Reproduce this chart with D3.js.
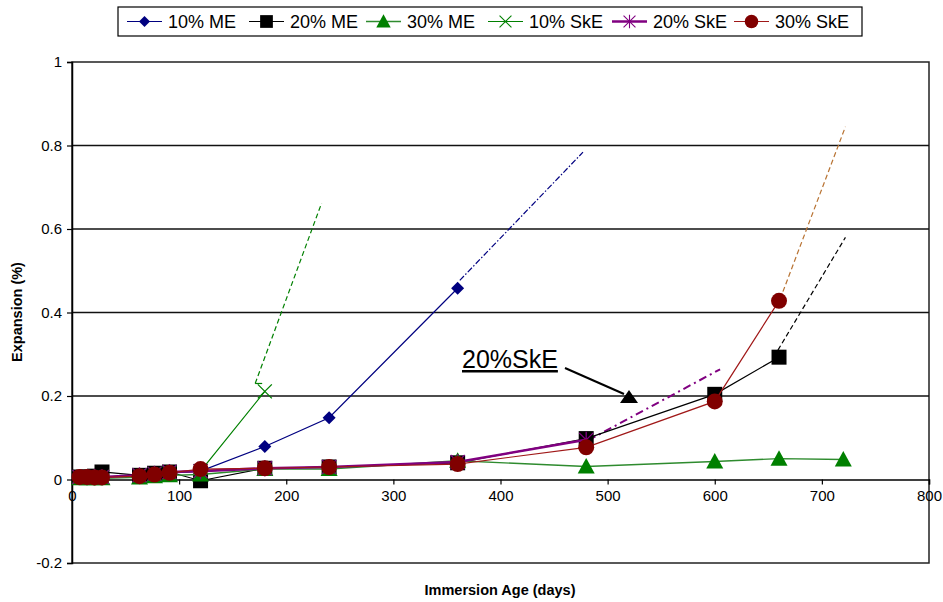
<!DOCTYPE html>
<html>
<head>
<meta charset="utf-8">
<script src="https://cdn.jsdelivr.net/npm/d3@7"></script>
<style>
  html, body { margin: 0; padding: 0; background: #fff; }
  svg { display: block; font-family: "Liberation Sans", Arial, Helvetica, sans-serif; }
</style>
</head>
<body>
<svg id="chart" width="943" height="602"></svg>
<script>
// Immersion ages (days) and measured expansion (%) for each mix
const seriesNames = ["10% ME", "20% ME", "30% ME", "10% SkE", "20% SkE", "30% SkE"];

const days10ME  = [7, 14, 21, 28, 63, 77, 91, 120, 180, 240, 360];
const exp10ME   = [0.005, 0.005, 0.005, 0.006, 0.010, 0.012, 0.015, 0.020, 0.079, 0.148, 0.458];

const days20ME  = [7, 14, 21, 28, 63, 77, 91, 120, 180, 240, 360, 480, 600, 660];
const exp20ME   = [0.006, 0.006, 0.008, 0.018, 0.010, 0.015, 0.018, -0.003, 0.027, 0.030, 0.040, 0.098, 0.204, 0.293];

const days30ME  = [7, 14, 21, 28, 63, 77, 91, 120, 180, 240, 360, 480, 600, 660, 720];
const exp30ME   = [0.003, 0.003, 0.003, 0.003, 0.005, 0.008, 0.010, 0.012, 0.025, 0.025, 0.045, 0.031, 0.043, 0.050, 0.048];

const days10SkE = [7, 14, 21, 28, 63, 77, 91, 120, 180];
const exp10SkE  = [0.005, 0.005, 0.006, 0.006, 0.010, 0.014, 0.016, 0.020, 0.211];

const days20SkE = [7, 14, 21, 28, 63, 77, 91, 120, 180, 240, 360, 480];
const exp20SkE  = [0.006, 0.006, 0.006, 0.006, 0.010, 0.014, 0.018, 0.020, 0.027, 0.030, 0.042, 0.095];

const days30SkE = [7, 14, 21, 28, 63, 77, 91, 120, 180, 240, 360, 480, 600, 660];
const exp30SkE  = [0.006, 0.006, 0.005, 0.005, 0.008, 0.012, 0.016, 0.025, 0.027, 0.030, 0.037, 0.077, 0.187, 0.428];

// Projected trends (start and end points)
const trend10SkE = [[171, 0.230], [233, 0.662]];
const trend10ME  = [[362, 0.477], [477, 0.784]];
const trend20SkE = [[482, 0.094], [605, 0.264]];
const trend20ME  = [[659, 0.310], [722, 0.580]];
const trend30SkE = [[661, 0.432], [722, 0.845]];

const xTicks = [0, 100, 200, 300, 400, 500, 600, 700, 800];
const yTicks = [-0.2, 0, 0.2, 0.4, 0.6, 0.8, 1];
const gridValues = [0.2, 0.4, 0.6, 0.8];

const svg = d3.select("#chart");
const x = d3.scaleLinear().domain([0, 800]).range([72, 929]);
const y = d3.scaleLinear().domain([-0.2, 1]).range([563, 62]);

// plot frame and gridlines
svg.append("rect")
  .attr("x", x(0)).attr("y", y(1))
  .attr("width", x(800) - x(0)).attr("height", y(-0.2) - y(1))
  .attr("fill", "none").attr("stroke", "#222").attr("stroke-width", 1.5);

svg.append("g").selectAll("line").data(gridValues).join("line")
  .attr("x1", x(0)).attr("x2", x(800))
  .attr("y1", d => y(d)).attr("y2", d => y(d))
  .attr("stroke", "#111").attr("stroke-width", 1.5);

// axes
const yAxis = svg.append("g").attr("transform", `translate(${x(0)},0)`)
  .call(d3.axisLeft(y).tickValues(yTicks).tickSize(5).tickPadding(5));
const xAxis = svg.append("g").attr("transform", `translate(0,${y(0)})`)
  .call(d3.axisBottom(x).tickValues(xTicks).tickSize(5).tickPadding(6));
[yAxis, xAxis].forEach(g => {
  g.selectAll("text").attr("font-size", 15).attr("fill", "#000")
    .attr("font-family", "'Liberation Sans', Arial, sans-serif");
  g.selectAll("line").attr("stroke", "#000").attr("stroke-width", 1.2);
  g.select(".domain").attr("stroke", "#000").attr("stroke-width", 1.5);
});
yAxis.selectAll("text").text(d => d === 0 ? "0" : String(+d.toFixed(1)));

// axis titles
svg.append("text").attr("x", 500).attr("y", 595)
  .attr("text-anchor", "middle").attr("font-size", 14.5).attr("font-weight", "bold")
  .text("Immersion Age (days)");
svg.append("text").attr("transform", "translate(22,312) rotate(-90)")
  .attr("text-anchor", "middle").attr("font-size", 14.5).attr("font-weight", "bold")
  .text("Expansion (%)");

// marker shapes
function markerPath(kind) {
  switch (kind) {
    case "diamond": return "M0,-6.5L6.5,0L0,6.5L-6.5,0Z";
    case "square": return "M-7.5,-7.5H7.5V7.5H-7.5Z";
    case "triangle": return "M0,-8.5L8.5,7L-8.5,7Z";
    case "circle": return d3.symbol(d3.symbolCircle, Math.PI * 8 * 8)();
    case "x": return "M-7,-7L7,7M-7,7L7,-7";
    case "star": return "M-7,-7L7,7M-7,7L7,-7M0,-8V8";
  }
}

const series = [
  { name: seriesNames[0], days: days10ME,  vals: exp10ME,  line: "#000080", lw: 1.2, marker: "diamond",  fill: "#000080" },
  { name: seriesNames[1], days: days20ME,  vals: exp20ME,  line: "#000000", lw: 1.2, marker: "square",   fill: "#000000" },
  { name: seriesNames[2], days: days30ME,  vals: exp30ME,  line: "#2e8b2e", lw: 1.4, marker: "triangle", fill: "#008000" },
  { name: seriesNames[3], days: days10SkE, vals: exp10SkE, line: "#008000", lw: 1.2, marker: "x",        fill: "none", stroke: "#008000" },
  { name: seriesNames[4], days: days20SkE, vals: exp20SkE, line: "#800080", lw: 2.6, marker: "star",     fill: "none", stroke: "#800080" },
  { name: seriesNames[5], days: days30SkE, vals: exp30SkE, line: "#a01818", lw: 1.2, marker: "circle",   fill: "#800000" }
];

const lineGen = d3.line().x(d => x(d[0])).y(d => y(d[1]));

// trend projections
const trends = [
  { pts: trend10SkE, color: "#008000", dash: "5,3", lw: 1.2 },
  { pts: trend10ME,  color: "#000080", dash: "6,2,1.5,2", lw: 1.2 },
  { pts: trend20SkE, color: "#800080", dash: "8,4,2,4", lw: 2 },
  { pts: trend20ME,  color: "#000000", dash: "5,3", lw: 1.2 },
  { pts: trend30SkE, color: "#b87333", dash: "5,3", lw: 1.2 }
];
svg.append("g").selectAll("path").data(trends).join("path")
  .attr("d", d => lineGen(d.pts))
  .attr("fill", "none").attr("stroke", d => d.color)
  .attr("stroke-width", d => d.lw).attr("stroke-dasharray", d => d.dash);
// short cap at the start of the 10% SkE projection
svg.append("line")
  .attr("x1", x(trend10SkE[0][0])).attr("x2", x(trend10SkE[0][0]) + 7)
  .attr("y1", y(trend10SkE[0][1])).attr("y2", y(trend10SkE[0][1]))
  .attr("stroke", "#008000").attr("stroke-width", 1.2);

// series lines and markers
series.forEach(s => {
  const pts = s.days.map((d, i) => [d, s.vals[i]]);
  const g = svg.append("g");
  g.append("path").attr("d", lineGen(pts))
    .attr("fill", "none").attr("stroke", s.line).attr("stroke-width", s.lw);
  g.selectAll("path.mk").data(pts).join("path").attr("class", "mk")
    .attr("transform", d => `translate(${x(d[0])},${y(d[1])})`)
    .attr("d", markerPath(s.marker))
    .attr("fill", s.fill)
    .attr("stroke", s.stroke || "none")
    .attr("stroke-width", s.stroke ? 1.3 : 0);
});

// annotation
svg.append("text").attr("x", 462).attr("y", 368)
  .attr("font-size", 25).attr("text-decoration", "underline").text("20%SkE");
svg.append("line").attr("x1", 565).attr("y1", 368).attr("x2", 624).attr("y2", 394)
  .attr("stroke", "#000").attr("stroke-width", 2);
svg.append("path").attr("d", "M629,390L638,403L620,403Z").attr("fill", "#000");

// legend
const legend = svg.append("g");
legend.append("rect").attr("x", 118).attr("y", 7).attr("width", 744).attr("height", 29)
  .attr("fill", "#fff").attr("stroke", "#000").attr("stroke-width", 1.2);
const legendX = [127, 249, 366, 488, 612, 734];
series.forEach((s, i) => {
  const lx = legendX[i], ly = 21.5;
  legend.append("line").attr("x1", lx).attr("x2", lx + 35).attr("y1", ly).attr("y2", ly)
    .attr("stroke", s.line).attr("stroke-width", Math.min(s.lw, 2.4));
  legend.append("path")
    .attr("transform", `translate(${lx + 17.5},${ly}) scale(0.85)`)
    .attr("d", markerPath(s.marker))
    .attr("fill", s.fill).attr("stroke", s.stroke || "none")
    .attr("stroke-width", s.stroke ? 1.3 : 0);
  legend.append("text").attr("x", lx + 41).attr("y", ly + 6.5)
    .attr("font-size", 18).text(s.name);
});
</script>
</body>
</html>
